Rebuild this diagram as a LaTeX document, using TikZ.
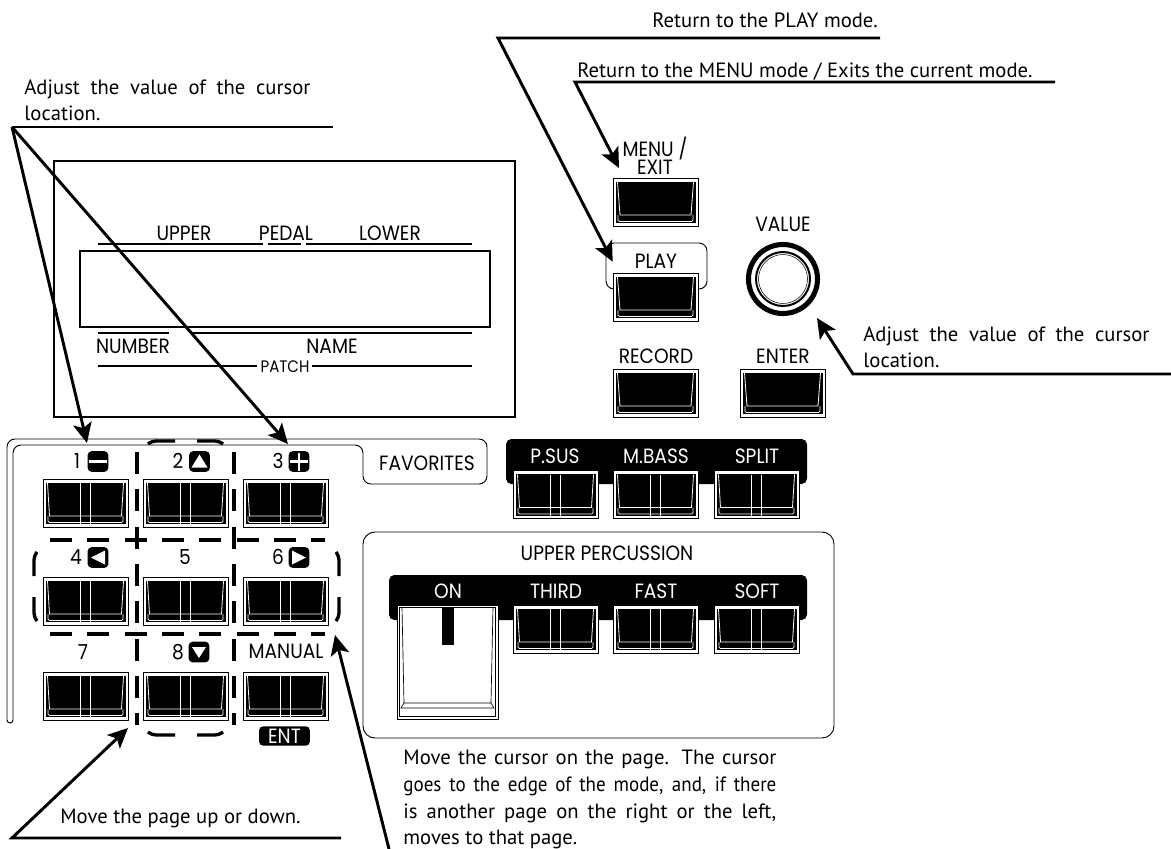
\documentclass[tikz,border=0pt]{standalone}
\usepackage{fontspec}
\setmainfont{PT Sans}
\newfontfamily\tightfont[FakeStretch=0.92]{PT Sans}
\newfontfamily\panelfont[FakeStretch=0.9]{Poppins}
\usetikzlibrary{arrows.meta, calc}
\tikzset{
  leader/.style={line width=2.2pt, miter limit=20},
  leadarrow/.style={leader, -{Stealth[length=15pt, width=14pt, inset=3.5pt]}},
  note/.style={font=\fontsize{15.5}{20}\selectfont, inner sep=0pt, anchor=base west},
  block/.style={note, align=justify, anchor=north west},
  paneltext/.style={font=\panelfont\fontsize{15.5}{13.5}\selectfont, inner sep=0pt},
  rev/.style={paneltext, text=white},
  iconbox/.style={fill=black, rounded corners=3pt, minimum size=15.5pt, inner sep=0pt},
  favline/.style={line width=2.5pt, rounded corners=3pt},
  favdash/.style={line width=2.5pt, dash pattern=on 16.5pt off 11.5pt},
  thinframe/.style={line width=0.7pt, rounded corners=6pt},
  pics/plainkey/.style={code={
    \draw[line width=0.7pt, fill=white] (0,0) rectangle (85,48);
    \fill (2.5,3.5) rectangle (82.5,45);
    \draw[white, line width=0.6pt] (4.5,4) -- (7,37) -- (78,37) -- (80.5,4);
    \draw[white, line width=0.6pt, rounded corners=1pt] (5,37) -- (5,43.5) -- (80,43.5) -- (80,37);
  }},
  pics/splitkey/.style={code={
    \draw[line width=0.7pt, fill=white] (0,0) rectangle (85,48);
    \fill (2.5,3.5) rectangle (82.5,45);
    \draw[white, line width=0.6pt] (4.5,4) -- (6.5,37) -- (78.5,37) -- (80.5,4);
    \draw[white, line width=0.6pt, rounded corners=1pt] (5,37) -- (5,43.5) -- (80,43.5) -- (80,37);
    \draw[white, line width=0.7pt] (37.5,4) -- (37.5,45) (47.5,4) -- (47.5,45);
  }},
}
\begin{document}
\begin{tikzpicture}[x=0.75pt, y=-0.75pt, line width=0.6pt]
  \useasboundingbox (0,0) rectangle (1171,849);
  % display
  \draw[line width=1.5pt] (54,161) rectangle (515,417);
  \draw[line width=0.8pt] (80,251) rectangle (490,327);
  \draw[line width=1.2pt] (98,244) -- (263,244) (268,244) -- (301,244) (306,244) -- (472,244);
  \draw[line width=1.2pt] (98,333) -- (169,333) (190,333) -- (472,333);
  \draw[line width=1.2pt] (98,366) -- (257,366) (312,366) -- (472,366);
  \node[paneltext] (upper) at (184,233) {UPPER};
  \node[paneltext] (pedal) at (286,233) {PEDAL};
  \node[paneltext] (lower) at (390,233) {LOWER};
  \node[paneltext] (number) at (133,346) {NUMBER};
  \node[paneltext] (name) at (332,346) {NAME};
  \node[paneltext, font=\panelfont\fontsize{12.5}{14}\selectfont] (patch) at (285,367) {PATCH};
  % right column
  \draw[thinframe] (606,289) -- (606,243) -- (707,243) -- (707,289) -- cycle;
  \pic at (613,178) {plainkey};
  \pic at (613,273) {plainkey};
  \pic at (613,369) {plainkey};
  \pic at (740,369) {plainkey};
  \node[paneltext, align=center] (menu) at (655,156) {MENU /\\EXIT};
  \node[paneltext] (play) at (656,261) {PLAY};
  \node[paneltext] (record) at (656,356) {RECORD};
  \node[paneltext] (enter) at (783,356) {ENTER};
  \node[paneltext] (value) at (783,224) {VALUE};
  \draw[line width=3.8pt] (783,279) circle (34.5);
  \draw[line width=1.5pt] (783,279) circle (27);
  \draw[line width=0.4pt] (783,279) circle (24.5);
  % favorites
  \draw[thinframe] (13,720) -- (13,445) -- (363,445) -- (363,484) -- (487,484) -- (487,439) -- (7,439) -- (7,720);
  \draw[line width=0.7pt] (7,720) arc[start angle=180, end angle=0, radius=3];
  \node[paneltext] (favorites) at (427,463) {FAVORITES};
  \foreach \kx in {43,143,243}
    \foreach \ky in {479,577,672}
      \pic at (\kx,\ky) {splitkey};
  \foreach \dx in {137,234}
    \draw[favdash] (\dx,452) -- (\dx,725);
  \draw[favline] (148,444) -- (152,441) -- (175,441) (197,441) -- (219,441) -- (223,444);
  \draw[favline] (148,732) -- (152,735) -- (175,735) (197,735) -- (219,735) -- (223,732);
  \foreach \dy in {540,634}
    \draw[favdash] (50,\dy) -- (325,\dy);
  \draw[favline] (37,552) -- (34,556) -- (34,576) (34,597) -- (34,617) -- (37,621);
  \draw[favline] (336,552) -- (339,556) -- (339,576) (339,597) -- (339,617) -- (336,621);
  \foreach \num/\nx/\ny in {1/77/461, 2/178/461, 3/278/461, 4/76/557, 5/185/557, 6/278/557, 7/83/652, 8/178/652}
    \node[paneltext] (num\num) at (\nx,\ny) {\num};
  \node[iconbox] (ico1) at (98,461.5) {};
  \node[iconbox] (ico2) at (199.5,461.5) {};
  \node[iconbox] (ico3) at (299,461.5) {};
  \node[iconbox] (ico4) at (98,557.5) {};
  \node[iconbox] (ico6) at (299,557.5) {};
  \node[iconbox] (ico8) at (199,652) {};
  \fill[white] ($(ico1.center)+(-9,-1.5)$) rectangle ($(ico1.center)+(9,1.5)$);
  \fill[white] ($(ico2.center)+(-8,6)$) -- ($(ico2.center)+(8,6)$) -- ($(ico2.center)+(0,-7)$) -- cycle;
  \fill[white] ($(ico3.center)+(-9,-1.2)$) rectangle ($(ico3.center)+(9,1.2)$);
  \fill[white] ($(ico3.center)+(-1.2,-9)$) rectangle ($(ico3.center)+(1.2,9)$);
  \fill[white] ($(ico4.center)+(7,-7)$) -- ($(ico4.center)+(7,7)$) -- ($(ico4.center)+(-7,0)$) -- cycle;
  \fill[white] ($(ico6.center)+(-7,-7)$) -- ($(ico6.center)+(-7,7)$) -- ($(ico6.center)+(7,0)$) -- cycle;
  \fill[white] ($(ico8.center)+(-7,-5)$) -- ($(ico8.center)+(7,-5)$) -- ($(ico8.center)+(0,6)$) -- cycle;
  \node[paneltext] (manual) at (286,651) {MANUAL};
  \node[rev, fill=black, rounded corners=3pt, minimum width=38pt, minimum height=14.5pt] (ent) at (284.5,736) {ENT};
  % p.sus row
  \fill[rounded corners=4pt] (506,484) -- (506,439) -- (807,439) -- (807,484) -- cycle;
  \foreach \kx in {513,613,714}
    \pic at (\kx,470.5) {splitkey};
  \node[rev] (psus) at (555,456) {P.SUS};
  \node[rev] (mbass) at (656,456) {M.BASS};
  \node[rev] (split) at (757,456) {SPLIT};
  % upper percussion
  \draw[line width=0.7pt, rounded corners=9pt] (363,532) rectangle (834,738);
  \node[paneltext] (percussion) at (607,553) {UPPER PERCUSSION};
  \fill[rounded corners=4pt] (389,620) -- (389,575) -- (807,575) -- (807,620) -- cycle;
  \foreach \kx in {513,613,714}
    \pic at (\kx,605) {splitkey};
  \draw[line width=0.7pt, fill=white] (397,605) rectangle (498,719);
  \draw[line width=0.6pt] (399.5,607) rectangle (495.5,716.5);
  \draw[line width=0.5pt] (402,607) -- (404,703) -- (491,703) -- (493,607);
  \draw[line width=0.5pt] (404,703) -- (401,708) -- (494,708) -- (491,703);
  \fill (442,607) rectangle (454,645);
  \node[rev] (on) at (448,591) {ON};
  \node[rev] (third) at (556,591) {THIRD};
  \node[rev] (fast) at (656,591) {FAST};
  \node[rev] (soft) at (757,591) {SOFT};
  % notes
  \node[note] (notePlay) at (652,28) {Return to the PLAY mode.};
  \node[note] (noteMenu) at (577,78) {Return to the MENU mode / Exits the current mode.};
  \node[block, text width=214.5pt] (noteLeft) at (24,79) {Adjust the value of the cursor\linebreak location.};
  \node[block, text width=214.5pt] (noteRight) at (863,326) {Adjust the value of the cursor\linebreak location.};
  \node[note] (notePage) at (60,823) {Move the page up or down.};
  \node[block, text width=279.75pt] (noteCursor) at (403,750) {Move the cursor on the page. The cursor\linebreak {\tightfont goes to the edge of the mode, and, if there}\linebreak is another page on the right or the left,\linebreak moves to that page.};
  % leaders
  \coordinate (playEnd) at (880,38);
  \coordinate (playBend) at (498,38);
  \coordinate (playTip) at (612.7,261.7);
  \coordinate (menuEnd) at (1055,82);
  \coordinate (menuBend) at (575,82);
  \coordinate (menuTip) at (619,168);
  \coordinate (leftEnd) at (333,127);
  \coordinate (leftBend) at (12,127);
  \coordinate (minusTip) at (87,443);
  \coordinate (plusTip) at (288,444);
  \coordinate (knobEnd) at (1171,374);
  \coordinate (knobBend) at (853,374);
  \coordinate (knobTip) at (817,318);
  \coordinate (pageEnd) at (341,838);
  \coordinate (pageBend) at (12,838);
  \coordinate (pageTip) at (128,728);
  \coordinate (cursorEnd) at (389,849);
  \coordinate (cursorTip) at (335,635);
  \draw[leadarrow] (playEnd) -- (playBend) -- (playTip);
  \draw[leadarrow] (menuEnd) -- (menuBend) -- (menuTip);
  \draw[leader] (leftEnd) -- (leftBend);
  \draw[leadarrow] (leftBend) -- (minusTip);
  \draw[leadarrow] (leftBend) -- (plusTip);
  \draw[leadarrow] (knobEnd) -- (knobBend) -- (knobTip);
  \draw[leadarrow] (pageEnd) -- (pageBend) -- (pageTip);
  \draw[leadarrow] (cursorEnd) -- (cursorTip);
\end{tikzpicture}
\end{document}
